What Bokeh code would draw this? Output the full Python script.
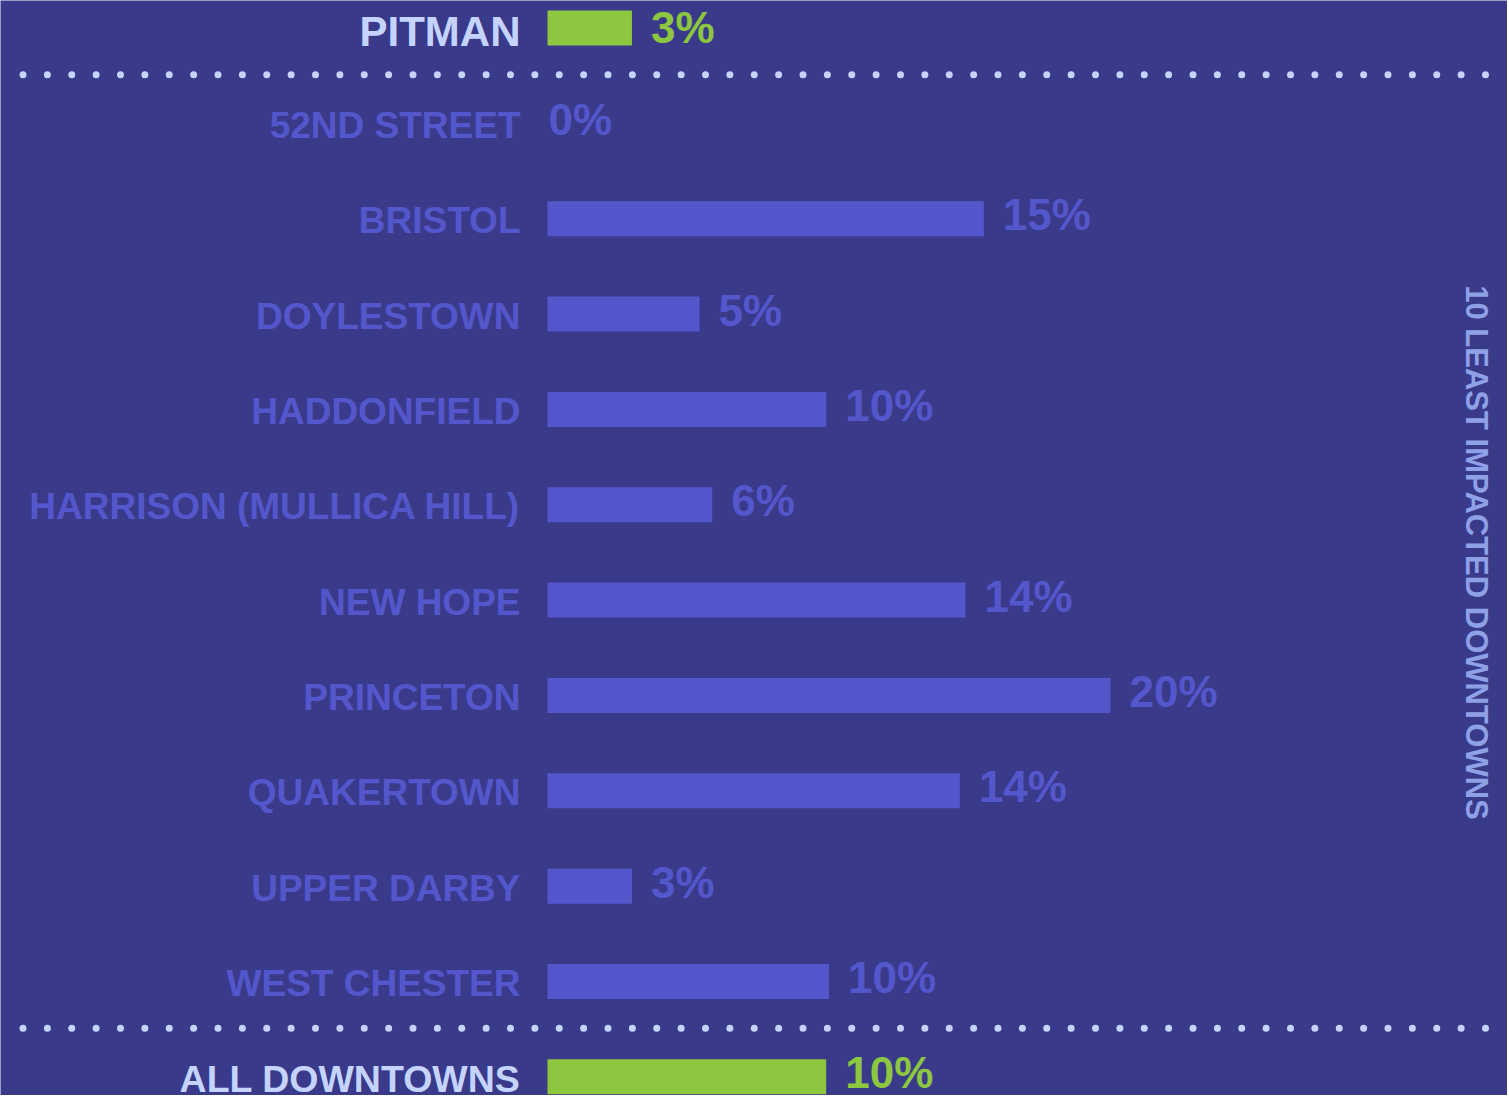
import math
import numpy as np
from bokeh.plotting import figure
from bokeh.models import ColumnDataSource, Range1d, Label
from bokeh.core.properties import value
from bokeh.embed import file_html
from bokeh.resources import INLINE

# ---------------- data ----------------
categories = ["PITMAN", "52ND STREET", "BRISTOL", "DOYLESTOWN", "HADDONFIELD",
              "HARRISON (MULLICA HILL)", "NEW HOPE", "PRINCETON", "QUAKERTOWN",
              "UPPER DARBY", "WEST CHESTER", "ALL DOWNTOWNS"]
values = [3.0, 0.0, 15.5, 5.4, 9.9, 5.85, 14.85, 20.0, 14.65, 3.0, 10.0, 9.9]
value_labels = ["3%", "0%", "15%", "5%", "10%", "6%", "14%", "20%", "14%", "3%", "10%", "10%"]
groups = ["focus"] + ["least"] * 10 + ["all"]
side_title = "10 LEAST IMPACTED DOWNTOWNS"

# ---------------- style / layout ----------------
BG = "#3a3a8b"
BAR = "#5457cc"
LIGHT = "#c4d4ff"
GREEN = "#8dc63f"
TITLE_C = "#8fa1e6"
FONT = value("Liberation Sans")

OFF = 1.0  # page offset of the figure
W, H = 1507, 1095
PX_PER_PCT = 28.15
BAR_LEFT_PX = 548.0 - OFF
ROW0_PX = 28.5 - OFF
ROW_STEP_PX = 95.35

def px_to_x(px):
    return (px - BAR_LEFT_PX) / PX_PER_PCT

def px_to_y(py):
    return (py - ROW0_PX) / ROW_STEP_PX

p = figure(width=W, height=H, output_backend="svg", toolbar_location=None,
           x_axis_location=None, y_axis_location=None,
           x_range=Range1d(px_to_x(0), px_to_x(W)),
           y_range=Range1d(px_to_y(H), px_to_y(0)),
           min_border=0, background_fill_color=BG, border_fill_color=BG,
           outline_line_color=None)
p.grid.visible = False

idx = list(range(len(categories)))
bar_color = [GREEN if g != "least" else BAR for g in groups]
cat_color = [LIGHT if g != "least" else BAR for g in groups]
cat_size = ["42px" if g == "focus" else ("37.5px" if g == "all" else "37px") for g in groups]
cat_dy = [3 if g == "focus" else 2 for g in groups]
val_dx = [19 if v > 0 else 1 for v in values]
val_dy = [-0.5 if g == "focus" else -4 for g in groups]

src = ColumnDataSource(dict(idx=idx, cat=categories, val=values, vlab=value_labels,
                            bar_color=bar_color, cat_color=cat_color, cat_size=cat_size,
                            cat_dy=cat_dy, val_dx=val_dx, val_dy=val_dy))

p.hbar(y="idx", left=0, right="val", height=35 / ROW_STEP_PX, fill_color="bar_color",
       line_color=None, source=src)

p.text(x=0, y="idx", text="cat", x_offset=-27, y_offset="cat_dy", text_align="right",
       text_baseline="middle", text_font=FONT, text_font_style="bold",
       text_font_size="cat_size", text_color="cat_color", source=src)

p.text(x="val", y="idx", text="vlab", x_offset="val_dx", y_offset="val_dy",
       text_align="left", text_baseline="middle", text_font=FONT,
       text_font_style="bold", text_font_size="44px", text_color="bar_color", source=src)

# dotted separators
dots_x = np.linspace(px_to_x(23.5 - OFF), px_to_x(1486 - OFF), 61)
for sep in (0.49, 10.49):
    p.scatter(x=dots_x, y=[sep] * len(dots_x), marker="circle", size=7,
              fill_color=LIGHT, line_color=None)

p.add_layout(Label(x=px_to_x(1477 - OFF), y=px_to_y(553 - OFF), text=side_title,
                   angle=-math.pi / 2, text_align="center", text_baseline="middle",
                   text_font="Liberation Sans", text_font_style="bold",
                   text_font_size="31px", text_color=TITLE_C))

open("out.html", "w").write(file_html(p, INLINE))
